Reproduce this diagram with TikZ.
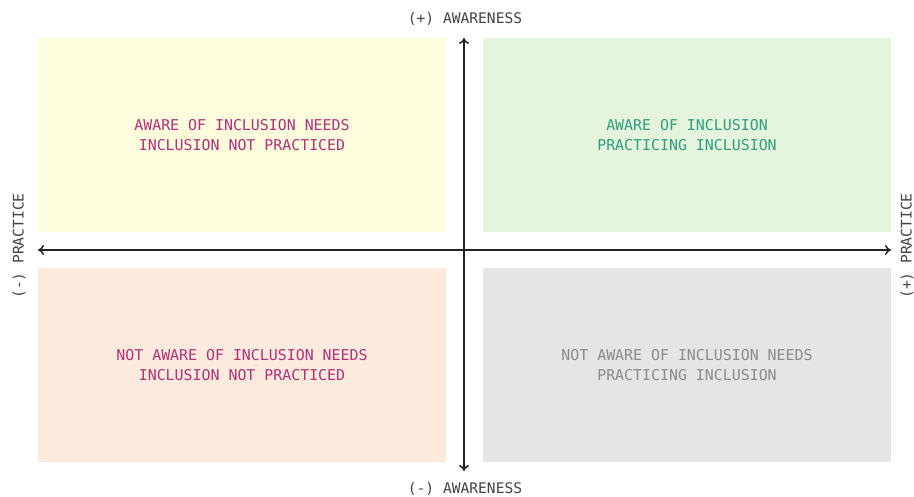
\documentclass[tikz,border=0pt]{standalone}
\usepackage{fontspec}
\setmonofont{DejaVu Sans Mono}
\usetikzlibrary{arrows.meta}
\definecolor{qyellow}{HTML}{FDFCDC}
\definecolor{qgreen}{HTML}{E5F4DC}
\definecolor{qpeach}{HTML}{FCEBDC}
\definecolor{qgray}{HTML}{E5E5E5}
\definecolor{tmag}{HTML}{B2317A}
\definecolor{tgreen}{HTML}{2E9E7E}
\definecolor{tgray}{HTML}{8A8A8A}
\definecolor{axisc}{HTML}{222222}
\begin{document}
\begin{tikzpicture}[x=1pt,y=-1pt,
  quad/.style={draw=none,minimum width=408pt,minimum height=194pt,anchor=north west,inner sep=0pt},
  qtext/.style={align=center,font=\ttfamily\fontsize{14.9}{19.5}\selectfont},
  axlabel/.style={font=\ttfamily\fontsize{14.6}{16}\selectfont,text=axisc!85},
  axis/.style={draw=axisc,line width=1.5pt,{To[length=6pt,width=10pt]}-{To[length=6pt,width=10pt]}}]
\useasboundingbox (0,0) rectangle (914,497);
\fill[white] (0,0) rectangle (914,497);
\node[quad,fill=qyellow] (tl) at (38,38) {};
\node[quad,fill=qgreen] (tr) at (483,38) {};
\node[quad,fill=qpeach] (bl) at (38,268) {};
\node[quad,fill=qgray] (br) at (483,268) {};
\node[qtext,text=tmag] (tlt) at (242,135) {AWARE OF INCLUSION NEEDS\\INCLUSION NOT PRACTICED};
\node[qtext,text=tgreen] (trt) at (687,135) {AWARE OF INCLUSION\\PRACTICING INCLUSION};
\node[qtext,text=tmag] (blt) at (242,365) {NOT AWARE OF INCLUSION NEEDS\\INCLUSION NOT PRACTICED};
\node[qtext,text=tgray] (brt) at (687,365) {NOT AWARE OF INCLUSION NEEDS\\PRACTICING INCLUSION};
\coordinate (left) at (38,250);
\coordinate (right) at (891,250);
\coordinate (top) at (464,38);
\coordinate (bottom) at (464,471);
\draw[axis] (left) -- (right);
\draw[axis] (bottom) -- (top);
\node[axlabel] (aw+) at (465,19) {(+) AWARENESS};
\node[axlabel] (aw-) at (465,489) {(-) AWARENESS};
\node[axlabel,rotate=90] (pr-) at (19,246) {(-) PRACTICE};
\node[axlabel,rotate=90] (pr+) at (907,246) {(+) PRACTICE};
\end{tikzpicture}
\end{document}
